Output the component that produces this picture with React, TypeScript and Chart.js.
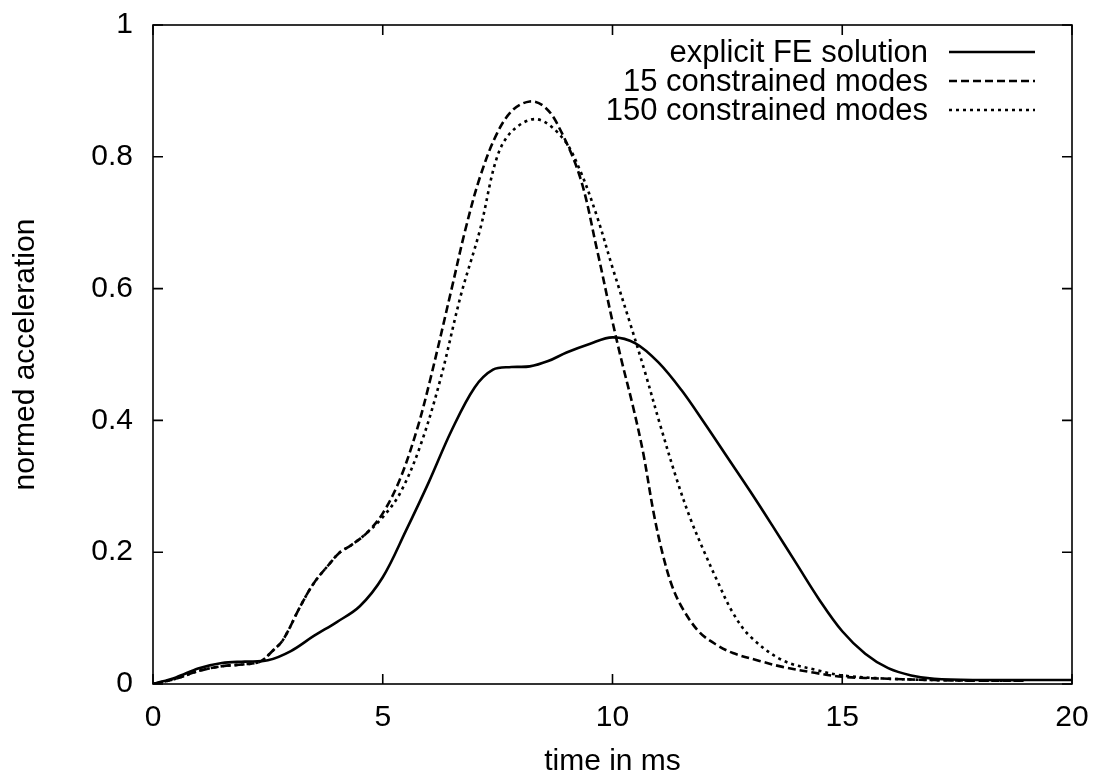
import React, { useEffect, useRef } from "react";
import { Chart, registerables } from "chart.js";

Chart.register(...registerables);

// ---- data ----
const xTicks = [0, 5, 10, 15, 20];
const yTicks = [0, 0.2, 0.4, 0.6, 0.8, 1];

const feLabel = "explicit FE solution";
const feTime = [0, 0.5, 1, 1.5, 2, 2.5, 3, 3.5, 4, 4.5, 5, 5.5, 6, 6.5, 7, 7.4, 7.8, 8.2, 8.6, 9, 9.5, 10, 10.5, 11, 11.5, 12, 12.5, 13, 13.5, 14, 14.5, 15, 15.5, 16, 16.5, 17, 18, 19, 20];
const feValues = [0, 0.01, 0.024, 0.032, 0.034, 0.036, 0.05, 0.073, 0.094, 0.118, 0.162, 0.232, 0.306, 0.385, 0.45, 0.477, 0.481, 0.482, 0.49, 0.503, 0.516, 0.526, 0.517, 0.488, 0.446, 0.396, 0.344, 0.292, 0.238, 0.183, 0.128, 0.08, 0.046, 0.024, 0.013, 0.008, 0.006, 0.006, 0.006];

const m15Label = "15 constrained modes";
const m15Time = [0, 0.5, 1, 1.5, 2, 2.33, 2.6, 2.83, 3.2, 3.5, 3.85, 4.07, 4.3, 4.65, 5.0, 5.37, 5.74, 6.03, 6.5, 6.8, 7.12, 7.49, 7.83, 8.2, 8.5, 8.79, 9.29, 9.66, 10.0, 10.2, 10.45, 10.67, 10.9, 11.1, 11.3, 11.53, 11.9, 12.3, 12.62, 13.2, 13.7, 14.4, 15, 16, 17, 18, 19];
const m15Values = [0, 0.008, 0.02, 0.027, 0.03, 0.034, 0.05, 0.067, 0.117, 0.153, 0.183, 0.2, 0.21, 0.229, 0.259, 0.31, 0.385, 0.461, 0.6, 0.69, 0.77, 0.836, 0.871, 0.884, 0.877, 0.851, 0.77, 0.66, 0.55, 0.49, 0.42, 0.35, 0.258, 0.195, 0.148, 0.114, 0.078, 0.058, 0.047, 0.035, 0.026, 0.017, 0.011, 0.008, 0.006, 0.005, 0.005];

const m150Label = "150 constrained modes";
const m150Time = [0, 0.5, 1, 1.5, 2, 2.33, 2.6, 2.83, 3.2, 3.5, 3.85, 4.07, 4.3, 4.65, 5.0, 5.38, 5.81, 6.25, 6.7, 7.12, 7.49, 7.83, 8.36, 8.92, 9.29, 9.66, 10.0, 10.38, 10.7, 11.03, 11.4, 11.7, 12.0, 12.27, 12.62, 13.0, 13.7, 14.45, 15, 16, 17, 18, 19];
const m150Values = [0, 0.008, 0.02, 0.027, 0.03, 0.034, 0.05, 0.067, 0.117, 0.153, 0.183, 0.2, 0.21, 0.229, 0.253, 0.29, 0.36, 0.461, 0.59, 0.69, 0.8, 0.84, 0.857, 0.828, 0.78, 0.71, 0.632, 0.548, 0.475, 0.395, 0.31, 0.25, 0.2, 0.158, 0.108, 0.072, 0.036, 0.021, 0.013, 0.008, 0.006, 0.005, 0.005];

const toPoints = (t: number[], v: number[]) => t.map((x, i) => ({ x, y: v[i] }));

const FONT = "'Liberation Sans', Arial, Helvetica, sans-serif";
const FONT_SIZE = 30;
const LEGEND_FONT_SIZE = 31;

const frameAndTicks = {
  id: "frameAndTicks",
  afterDatasetsDraw(chart: any) {
    const { ctx, chartArea: a, scales } = chart;
    ctx.save();
    ctx.strokeStyle = "#000";
    ctx.lineWidth = 1.6;
    ctx.strokeRect(a.left, a.top, a.right - a.left, a.bottom - a.top);
    const len = 10;
    ctx.beginPath();
    xTicks.forEach((t) => {
      const px = scales.x.getPixelForValue(t);
      ctx.moveTo(px, a.bottom);
      ctx.lineTo(px, a.bottom - len);
      ctx.moveTo(px, a.top);
      ctx.lineTo(px, a.top + len);
    });
    yTicks.forEach((t) => {
      const py = scales.y.getPixelForValue(t);
      ctx.moveTo(a.left, py);
      ctx.lineTo(a.left + len, py);
      ctx.moveTo(a.right, py);
      ctx.lineTo(a.right - len, py);
    });
    ctx.stroke();
    ctx.restore();
  },
};

const keyLegend = {
  id: "keyLegend",
  afterDraw(chart: any) {
    const { ctx } = chart;
    const textRight = 928;
    const lineStart = 949;
    const lineEnd = 1035;
    const rows = [52, 81, 110];
    ctx.save();
    ctx.font = `${LEGEND_FONT_SIZE}px ${FONT}`;
    ctx.fillStyle = "#000";
    ctx.textAlign = "right";
    ctx.textBaseline = "middle";
    chart.data.datasets.forEach((ds: any, i: number) => {
      const y = rows[i];
      ctx.fillText(ds.label, textRight, y + 1);
      ctx.beginPath();
      ctx.setLineDash(ds.borderDash || []);
      ctx.lineWidth = ds.borderWidth;
      ctx.strokeStyle = ds.borderColor;
      ctx.moveTo(lineStart, y);
      ctx.lineTo(lineEnd, y);
      ctx.stroke();
    });
    ctx.restore();
  },
};

export default function App() {
  const ref = useRef<HTMLCanvasElement>(null);

  useEffect(() => {
    if (!ref.current) return;
    const common = {
      borderColor: "#000",
      borderWidth: 2.6,
      pointRadius: 0,
      tension: 0.35,
      fill: false,
    };
    const chart = new Chart(ref.current, {
      type: "line",
      data: {
        datasets: [
          { ...common, label: feLabel, data: toPoints(feTime, feValues) },
          { ...common, label: m15Label, data: toPoints(m15Time, m15Values), borderDash: [8, 4] },
          { ...common, label: m150Label, data: toPoints(m150Time, m150Values), borderDash: [3, 4] },
        ],
      },
      options: {
        responsive: false,
        animation: false,
        layout: { padding: { top: 25, right: 31, left: 0, bottom: 0 } },
        plugins: { legend: { display: false }, tooltip: { enabled: false } },
        scales: {
          x: {
            type: "linear",
            min: 0,
            max: 20,
            afterBuildTicks: (s: any) => {
              s.ticks = xTicks.map((v) => ({ value: v }));
            },
            afterFit: (s: any) => {
              s.height = 95;
              s.paddingLeft = 0;
              s.paddingRight = 0;
            },
            grid: { display: false, drawTicks: false },
            border: { display: false },
            ticks: {
              color: "#000",
              padding: 16,
              font: { family: FONT, size: FONT_SIZE },
              callback: (v: any) => String(v),
            },
            title: {
              display: true,
              text: "time in ms",
              color: "#000",
              font: { family: FONT, size: FONT_SIZE, lineHeight: 1 },
              padding: { top: 0, bottom: 2 },
            },
          },
          y: {
            type: "linear",
            min: 0,
            max: 1,
            afterBuildTicks: (s: any) => {
              s.ticks = yTicks.map((v) => ({ value: v }));
            },
            afterFit: (s: any) => {
              s.width = 153;
              s.paddingTop = 0;
              s.paddingBottom = 0;
            },
            grid: { display: false, drawTicks: false },
            border: { display: false },
            ticks: {
              color: "#000",
              padding: 20,
              font: { family: FONT, size: FONT_SIZE },
              callback: (v: any) => String(v),
            },
            title: {
              display: true,
              text: "normed acceleration",
              color: "#000",
              font: { family: FONT, size: FONT_SIZE, lineHeight: 1 },
              padding: { top: 11, bottom: 0 },
            },
          },
        },
      },
      plugins: [frameAndTicks, keyLegend],
    });
    return () => chart.destroy();
  }, []);

  return (
    <div style={{ position: "absolute", left: 0, top: 0, width: 1103, height: 779, background: "#fff" }}>
      <canvas ref={ref} width={1103} height={779} style={{ display: "block" }} />
    </div>
  );
}
